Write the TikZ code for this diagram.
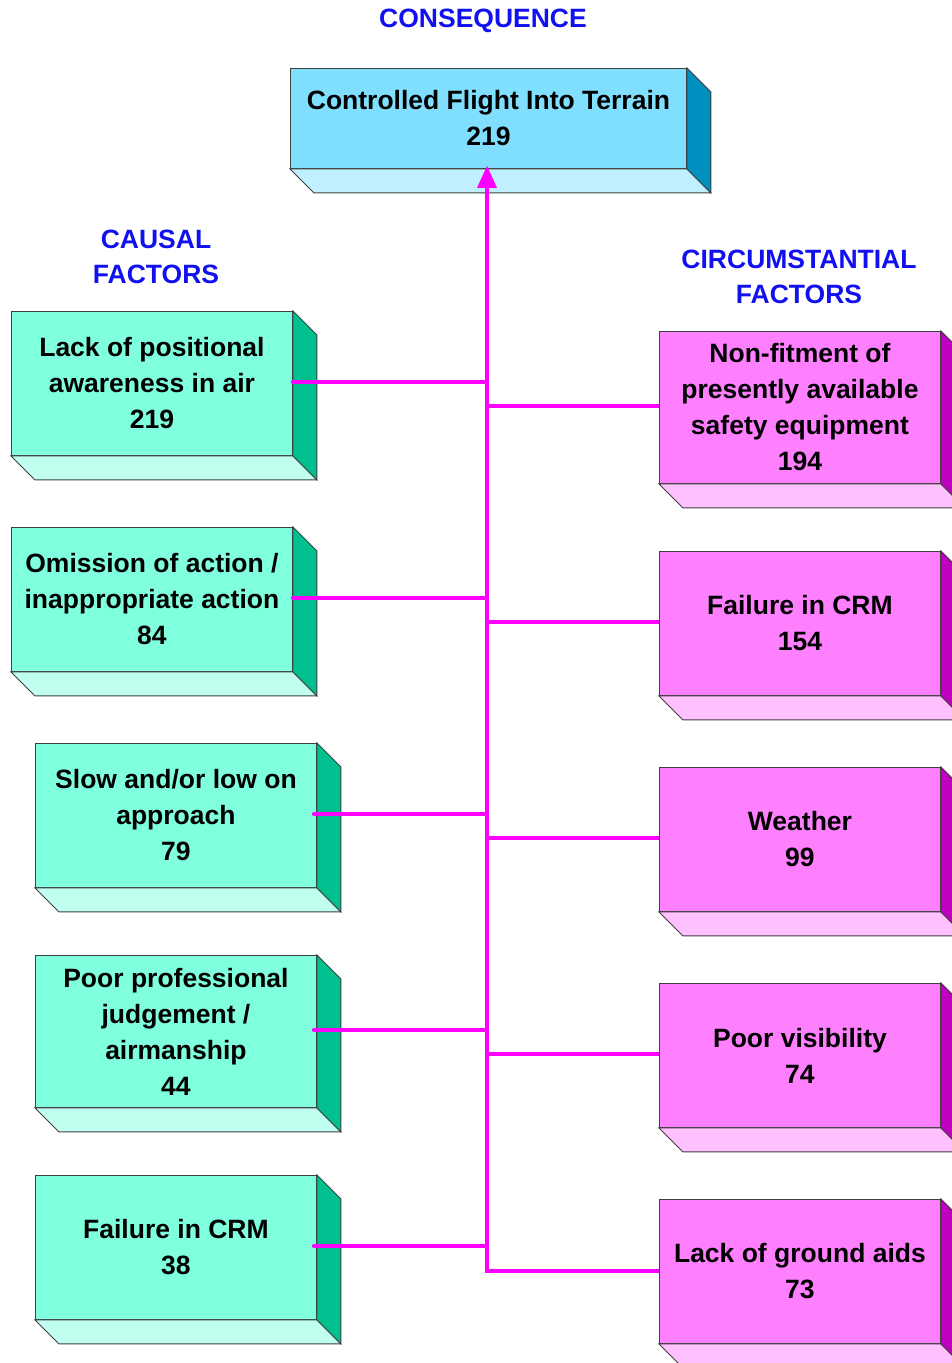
\documentclass[tikz,border=0pt]{standalone}
\usepackage{fontspec}
\setmainfont{Liberation Sans}
\usetikzlibrary{arrows.meta}

\definecolor{topfront}{HTML}{80DFFF}
\definecolor{topside}{HTML}{0090C0}
\definecolor{topbottom}{HTML}{C0F0FF}
\definecolor{causefront}{HTML}{80FFDF}
\definecolor{causeside}{HTML}{00C090}
\definecolor{causebottom}{HTML}{C0FFEF}
\definecolor{circfront}{HTML}{FF80FF}
\definecolor{circside}{HTML}{C000C0}
\definecolor{circbottom}{HTML}{FFC0FF}
\definecolor{linkmag}{HTML}{FF00FF}
\definecolor{headblue}{HTML}{1010F0}

\tikzset{
  face/.style={draw=black!75, line width=0.9pt},
  boxfront/.style={face, anchor=north west, inner sep=0pt,
    align=center, font=\bfseries\fontsize{26.5}{36}\selectfont},
  heading/.style={text=headblue, align=center,
    font=\bfseries\fontsize{26.5}{35}\selectfont},
  link/.style={draw=linkmag, line width=4pt, line cap=round}
}

% side and bottom faces of an extruded front node
\newcommand{\extrudebox}[3]{%
  \filldraw[face, fill=#3] (#1.south west) -- (#1.south east)
    -- ++(24,-24) -- ([shift={(24,-24)}]#1.south west) -- cycle;
  \filldraw[face, fill=#2] (#1.north east) -- ++(24,-24)
    -- ([shift={(24,-24)}]#1.south east) -- (#1.south east) -- cycle;
}

\begin{document}
\begin{tikzpicture}[x=1pt, y=1pt]
\useasboundingbox (0,0) rectangle (952,-1363);
\clip (0,0) rectangle (952,-1363);

% headings
\node[heading] (hcons) at (483,-21) {CONSEQUENCE};
\node[heading] (hcause) at (156,-257) {CAUSAL\\FACTORS};
\node[heading] (hcirc) at (799,-277) {CIRCUMSTANTIAL\\FACTORS};

% consequence
\node[boxfront, fill=topfront, minimum width=396pt, minimum height=100pt]
  (cfit) at (290,-68) {Controlled Flight Into Terrain\\219};
\extrudebox{cfit}{topside}{topbottom}

% causal factors
\node[boxfront, fill=causefront, minimum width=281pt, minimum height=144pt]
  (ca1) at (11,-311) {Lack of positional\\awareness in air\\219};
\node[boxfront, fill=causefront, minimum width=281pt, minimum height=144pt]
  (ca2) at (11,-527) {Omission of action /\\inappropriate action\\84};
\node[boxfront, fill=causefront, minimum width=281pt, minimum height=144pt]
  (ca3) at (35,-743) {Slow and/or low on\\approach\\79};
\node[boxfront, fill=causefront, minimum width=281pt, minimum height=152pt]
  (ca4) at (35,-955) {Poor professional\\judgement /\\airmanship\\44};
\node[boxfront, fill=causefront, minimum width=281pt, minimum height=144pt]
  (ca5) at (35,-1175) {Failure in CRM\\38};
\foreach \n in {ca1,ca2,ca3,ca4,ca5} {\extrudebox{\n}{causeside}{causebottom}}

% circumstantial factors
\node[boxfront, fill=circfront, minimum width=281pt, minimum height=152pt]
  (ci1) at (659,-331) {Non-fitment of\\presently available\\safety equipment\\194};
\node[boxfront, fill=circfront, minimum width=281pt, minimum height=144pt]
  (ci2) at (659,-551) {Failure in CRM\\154};
\node[boxfront, fill=circfront, minimum width=281pt, minimum height=144pt]
  (ci3) at (659,-767) {Weather\\99};
\node[boxfront, fill=circfront, minimum width=281pt, minimum height=144pt]
  (ci4) at (659,-983) {Poor visibility\\74};
\node[boxfront, fill=circfront, minimum width=281pt, minimum height=144pt]
  (ci5) at (659,-1199) {Lack of ground aids\\73};
\foreach \n in {ci1,ci2,ci3,ci4,ci5} {\extrudebox{\n}{circside}{circbottom}}

% trunk
\coordinate (trunkbot) at (487,-1271);
\draw[link, line cap=butt, line join=miter] (ci5.west |- trunkbot) -- (trunkbot)
  -- (trunkbot |- cfit.south);
\draw[draw=none, fill=linkmag] ([yshift=3pt]trunkbot |- cfit.south) -- ++(-10,-22) -- ++(20,0) -- cycle;

% causal links
\draw[link] (ca1.east |- 0,-382) -- (trunkbot |- 0,-382);
\draw[link] (ca2.east |- 0,-598) -- (trunkbot |- 0,-598);
\draw[link] ([xshift=-3pt]ca3.east |- 0,-814) -- (trunkbot |- 0,-814);
\draw[link] ([xshift=-3pt]ca4.east |- 0,-1030) -- (trunkbot |- 0,-1030);
\draw[link] ([xshift=-3pt]ca5.east |- 0,-1246) -- (trunkbot |- 0,-1246);

% circumstantial links
\draw[link, line cap=butt] (trunkbot |- 0,-406) -- (ci1.west |- 0,-406);
\draw[link, line cap=butt] (trunkbot |- 0,-622) -- (ci2.west |- 0,-622);
\draw[link, line cap=butt] (trunkbot |- 0,-838) -- (ci3.west |- 0,-838);
\draw[link, line cap=butt] (trunkbot |- 0,-1054) -- (ci4.west |- 0,-1054);
\end{tikzpicture}
\end{document}
